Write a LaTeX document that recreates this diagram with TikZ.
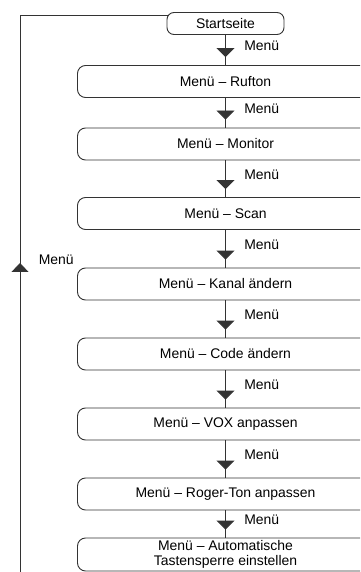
\documentclass[tikz,border=0pt]{standalone}
\usepackage{fontspec}
\setmainfont{Liberation Sans}
\usetikzlibrary{arrows.meta,decorations.markings}
\begin{document}
\begin{tikzpicture}[x=1bp,y=-1bp,line width=0.9bp,draw=black!80,
    every node/.style={font=\fontsize{14}{15}\selectfont},
    menubox/.style={draw,rounded corners=8bp,minimum width=296bp,minimum height=32bp,inner sep=0pt,align=center},
    menuarrow/.style={postaction={decorate},decoration={markings,mark=at position -8bp with {\arrow{Triangle[width=18bp,length=9bp]}}}},
    menulabel/.style={midway,anchor=west,xshift=15bp,yshift=4bp}]
            \useasboundingbox (0,0) rectangle (360,572);
            \clip (0,0) rectangle (360,572);
            \node[draw,rounded corners=7bp,minimum width=117bp,minimum height=22bp,inner sep=0pt] (start) at (225.5,23.5) {Startseite};
            \node[menubox] (rufton) at (225.5,81.5) {Menü – Rufton};
            \node[menubox] (monitor) at (225.5,144) {Menü – Monitor};
            \node[menubox] (scan) at (225.5,213.5) {Menü – Scan};
            \node[menubox] (kanal) at (225.5,284) {Menü – Kanal ändern};
            \node[menubox] (code) at (225.5,354) {Menü – Code ändern};
            \node[menubox] (vox) at (225.5,424) {Menü – VOX anpassen};
            \node[menubox] (roger) at (225.5,494) {Menü – Roger-Ton anpassen};
            \node[menubox,minimum height=33bp] (auto) at (225.5,554.5) {Menü – Automatische\\Tastensperre einstellen};
            \draw[menuarrow] (start) -- (rufton) node[menulabel]{Menü};
            \draw[menuarrow] (rufton) -- (monitor) node[menulabel]{Menü};
            \draw[menuarrow] (monitor) -- (scan) node[menulabel]{Menü};
            \draw[menuarrow] (scan) -- (kanal) node[menulabel]{Menü};
            \draw[menuarrow] (kanal) -- (code) node[menulabel]{Menü};
            \draw[menuarrow] (code) -- (vox) node[menulabel]{Menü};
            \draw[menuarrow] (vox) -- (roger) node[menulabel]{Menü};
            \draw[menuarrow] (roger) -- (auto) node[menulabel]{Menü};
            % Rueckweg zur Startseite
            \coordinate (back) at (20,572);
            \draw[postaction={decorate},decoration={markings,mark=at position 309bp with {\arrow{Triangle[width=17bp,length=9bp]}}}]
                (back) |- ([xshift=2bp,yshift=-3bp]start.north west);
            \node[anchor=west] (backlabel) at (35,260) {Menü};
        \end{tikzpicture}
\end{document}
